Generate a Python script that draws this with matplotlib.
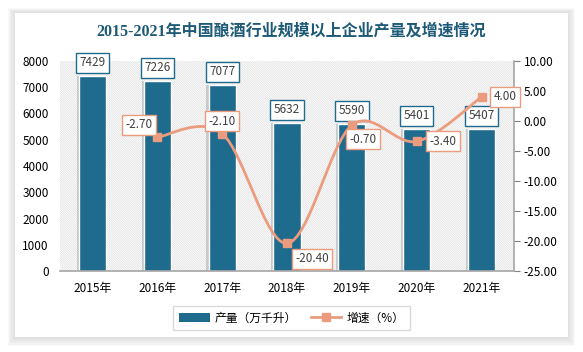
import numpy as np
import matplotlib.pyplot as plt
from matplotlib.patches import Rectangle, Patch
from matplotlib.lines import Line2D
from matplotlib.path import Path
from matplotlib.patches import PathPatch
import matplotlib.patheffects as pe

plt.rcParams['font.family'] = ['Noto Sans CJK SC', 'DejaVu Sans']
plt.rcParams['hatch.linewidth'] = 0.5
plt.rcParams['hatch.color'] = '#dedede'

years = ["2015年", "2016年", "2017年", "2018年", "2019年", "2020年", "2021年"]
output = [7429, 7226, 7077, 5632, 5590, 5401, 5407]          # 万千升
growth_idx = [1, 2, 3, 4, 5, 6]
growth = [-2.70, -2.10, -20.40, -0.70, -3.40, 4.00]          # %

bar_color = "#1f6b8e"
line_color = "#ec9c7e"
text_color = "#404040"

fig = plt.figure(figsize=(5.83, 3.52), dpi=100)
fig.patch.set_facecolor("white")

# card with soft shadow
L, B, W, H = 15 / 583, 1 - 337 / 352, (568 - 15) / 583, (337 - 13) / 352
for k in range(6, 0, -1):
    d = k * 1.2 / 583
    dy = k * 1.2 / 352
    fig.patches.append(Rectangle((L - d, B - dy * 1.3), W + 2 * d, H + 2 * dy,
                                 transform=fig.transFigure, fc="#b0b0b0",
                                 ec="none", alpha=0.07, zorder=-3))
fig.patches.append(Rectangle((L, B), W, H, transform=fig.transFigure,
                             fc="white", ec="none", zorder=-2))

ax = fig.add_axes([60 / 583, 1 - 271 / 352, (514 - 60) / 583, 210 / 352])
ax.patch.set_alpha(0)
ax.add_patch(Rectangle((0, 0), 1, 1, transform=ax.transAxes, fc="white",
                       ec="#dedede", lw=0, hatch="\\" * 15, zorder=0))

x = np.arange(len(years))
bars = ax.bar(x, output, width=0.42, color=bar_color, edgecolor="white",
              linewidth=1, zorder=2,
              path_effects=[pe.SimplePatchShadow(offset=(-1.5, 0), alpha=0.18),
                            pe.Normal()])
ax.set_xlim(-0.5, len(years) - 0.5)
ax.set_ylim(0, 8000)
ax.set_yticks(range(0, 8001, 1000))
ax.set_xticks(x)
ax.set_xticklabels(years)
ax.tick_params(axis="both", length=0, labelsize=8.5, colors="black")
ax.tick_params(axis="x", pad=8)
ax.tick_params(axis="y", pad=8)
for s in ["left", "top", "right"]:
    ax.spines[s].set_visible(False)
ax.spines["bottom"].set_color("#a6a6a6")
ax.spines["bottom"].set_linewidth(1.2)

for xi, v in zip(x, output):
    ax.annotate(str(v), (xi, v), xytext=(0, 5), textcoords="offset points",
                ha="center", va="bottom", fontsize=8.5, color=text_color,
                zorder=5,
                bbox=dict(boxstyle="square,pad=0.3", fc="white", ec=bar_color, lw=1))

ax2 = ax.twinx()
ax2.set_ylim(-25, 10)
ax2.set_yticks(np.arange(-25, 10.1, 5))
ax2.set_yticklabels(["%.2f" % t for t in np.arange(-25, 10.1, 5)])
ax2.tick_params(axis="y", length=4, direction="out", colors="#808080",
                labelcolor="black", labelsize=8.5, pad=3)
for s in ["left", "top", "bottom"]:
    ax2.spines[s].set_visible(False)
ax2.spines["right"].set_color("#a6a6a6")
ax2.spines["right"].set_linewidth(1.2)

# smoothed line (Catmull-Rom as cubic Bezier)
pts = np.column_stack([growth_idx, growth]).astype(float)
ext = np.vstack([pts[0], pts, pts[-1]])
verts = [tuple(pts[0])]
codes = [Path.MOVETO]
for i in range(1, len(ext) - 2):
    p0, p1, p2, p3 = ext[i - 1], ext[i], ext[i + 1], ext[i + 2]
    c1 = p1 + (p2 - p0) / 6
    c2 = p2 - (p3 - p1) / 6
    verts += [tuple(c1), tuple(c2), tuple(p2)]
    codes += [Path.CURVE4] * 3
ax2.add_patch(PathPatch(Path(verts, codes), fc="none", ec=line_color,
                        lw=2, zorder=3, capstyle="round"))
ax2.plot(growth_idx, growth, ls="none", marker="s", ms=6, color=line_color,
         zorder=4)

offsets = [(-13, 9), (0, 9), (18, -11), (8, -10), (19, 0), (17, 0)]
for xi, v, off in zip(growth_idx, growth, offsets):
    ax2.annotate("%.2f" % v, (xi, v), xytext=off, textcoords="offset points",
                 ha="center", va="center", fontsize=8.5, color=text_color,
                 zorder=6,
                 bbox=dict(boxstyle="square,pad=0.3", fc="white", ec=line_color, lw=1))

fig.text(0.5, 1 - 32 / 352, "2015-2021年中国酿酒行业规模以上企业产量及增速情况",
         ha="center", va="center", fontsize=11.5, fontweight="bold",
         color="#1d5a78", family=["Liberation Serif", "Noto Sans CJK SC"])

handles = [Patch(fc=bar_color, ec="none"),
           Line2D([], [], color=line_color, lw=2, marker="s", ms=6)]
leg = fig.legend(handles, ["产量（万千升）", "增速（%）"], loc="center",
                 bbox_to_anchor=(0.5, 1 - 318 / 352), ncol=2, fontsize=8.5,
                 frameon=True, fancybox=False, edgecolor="#d0d0d0",
                 handlelength=2.6, columnspacing=1.2, handletextpad=0.4,
                 borderpad=0.5)
leg.get_frame().set_linewidth(1)

fig.savefig("out.png", dpi=100)
